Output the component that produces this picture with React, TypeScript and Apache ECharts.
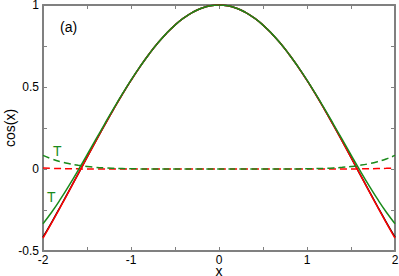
import React, { useEffect, useRef } from "react";
import * as echarts from "echarts";

const xs = [-2, -1.9, -1.8, -1.7, -1.6, -1.5, -1.4, -1.3, -1.2, -1.1, -1, -0.9, -0.8, -0.7, -0.6, -0.5, -0.4, -0.3, -0.2, -0.1, 0, 0.1, 0.2, 0.3, 0.4, 0.5, 0.6, 0.7, 0.8, 0.9, 1, 1.1, 1.2, 1.3, 1.4, 1.5, 1.6, 1.7, 1.8, 1.9, 2];

const cosExact = [-0.4161, -0.3233, -0.2272, -0.1288, -0.0292, 0.0707, 0.17, 0.2675, 0.3624, 0.4536, 0.5403, 0.6216, 0.6967, 0.7648, 0.8253, 0.8776, 0.9211, 0.9553, 0.9801, 0.995, 1, 0.995, 0.9801, 0.9553, 0.9211, 0.8776, 0.8253, 0.7648, 0.6967, 0.6216, 0.5403, 0.4536, 0.3624, 0.2675, 0.17, 0.0707, -0.0292, -0.1288, -0.2272, -0.3233, -0.4161];

const redSolid = [-0.4222, -0.3273, -0.2298, -0.1305, -0.0302, 0.0701, 0.1696, 0.2673, 0.3623, 0.4536, 0.5403, 0.6216, 0.6967, 0.7648, 0.8253, 0.8776, 0.9211, 0.9553, 0.9801, 0.995, 1, 0.995, 0.9801, 0.9553, 0.9211, 0.8776, 0.8253, 0.7648, 0.6967, 0.6216, 0.5403, 0.4536, 0.3623, 0.2673, 0.1696, 0.0701, -0.0302, -0.1305, -0.2298, -0.3273, -0.4222];

const greenSolid = [-0.3333, -0.262, -0.1826, -0.097, -0.0069, 0.0859, 0.1801, 0.274, 0.3664, 0.456, 0.5417, 0.6223, 0.6971, 0.765, 0.8254, 0.8776, 0.9211, 0.9553, 0.9801, 0.995, 1, 0.995, 0.9801, 0.9553, 0.9211, 0.8776, 0.8254, 0.765, 0.6971, 0.6223, 0.5417, 0.456, 0.3664, 0.274, 0.1801, 0.0859, -0.0069, -0.097, -0.1826, -0.262, -0.3333];

const greenDashed = [0.0828, 0.0613, 0.0446, 0.0318, 0.0223, 0.0152, 0.0101, 0.0065, 0.004, 0.0024, 0.0014, 0.0007, 0.0004, 0.0002, 0.0001, 0, 0, 0, 0, 0, 0, 0, 0, 0, 0, 0, 0.0001, 0.0002, 0.0004, 0.0007, 0.0014, 0.0024, 0.004, 0.0065, 0.0101, 0.0152, 0.0223, 0.0318, 0.0446, 0.0613, 0.0828];

const redDashed = [0.0061, 0.004, 0.0026, 0.0017, 0.001, 0.0006, 0.0004, 0.0002, 0.0001, 0, 0, 0, 0, 0, 0, 0, 0, 0, 0, 0, 0, 0, 0, 0, 0, 0, 0, 0, 0, 0, 0, 0, 0.0001, 0.0002, 0.0004, 0.0006, 0.001, 0.0017, 0.0026, 0.004, 0.0061];

const xTickLabels = ["-2", "-1", "0", "1", "2"];
const yTickLabels = ["-0.5", "0", "0.5", "1"];

const GREEN = "#1a8a1a";
const RED = "#ff0000";
const AXIS = "#808080";
const FONT = "Liberation Sans";

function pairs(ys: number[]) {
  return xs.map((x, i) => [x, ys[i]]);
}

function fmtX(v: number) {
  const s = String(v);
  return xTickLabels.includes(s) ? s : "";
}
function fmtY(v: number) {
  const s = String(v);
  return yTickLabels.includes(s) ? s : "";
}

export default function App() {
  const ref = useRef<HTMLDivElement>(null);
  useEffect(() => {
    if (!ref.current) return;
    const chart = echarts.init(ref.current, null, { renderer: "svg" });
    const axisLine = { show: true, onZero: false, lineStyle: { color: AXIS, width: 2 } };
    const axisTick = { show: true, inside: true, length: 4, lineStyle: { color: AXIS, width: 1 } };
    const line = (data: number[], color: string, type: string, z: number) => ({
      type: "line",
      data: pairs(data),
      showSymbol: false,
      symbol: "none",
      smooth: true,
      z,
      lineStyle: { color, width: 1.5, type: type === "dashed" ? [7, 4] : "solid" },
    });
    chart.setOption({
      animation: false,
      backgroundColor: "#fff",
      textStyle: { fontFamily: FONT },
      grid: { left: 43, right: 4, top: 5, bottom: 25, containLabel: false, outerBoundsMode: "none" },
      xAxis: [
        {
          type: "value",
          min: -2,
          max: 2,
          interval: 0.5,
          position: "bottom",
          name: "x",
          nameLocation: "middle",
          nameGap: 13,
          nameMoveOverlap: false,
          nameTextStyle: { color: "#000", fontSize: 14, fontFamily: FONT },
          axisLine,
          axisTick,
          splitLine: { show: false },
          axisLabel: { formatter: fmtX, color: "#000", fontSize: 12, margin: 3, fontFamily: FONT },
        },
        {
          type: "value",
          min: -2,
          max: 2,
          interval: 0.5,
          position: "top",
          axisLine,
          axisTick,
          splitLine: { show: false },
          axisLabel: { show: false },
        },
      ],
      yAxis: [
        {
          type: "value",
          min: -0.5,
          max: 1,
          interval: 0.25,
          position: "left",
          name: "cos(x)",
          nameLocation: "middle",
          nameGap: 26,
          nameRotate: 90,
          nameMoveOverlap: false,
          nameTextStyle: { color: "#000", fontSize: 14, fontFamily: FONT },
          axisLine,
          axisTick,
          splitLine: { show: false },
          axisLabel: { formatter: fmtY, color: "#000", fontSize: 12, margin: 4, fontFamily: FONT },
        },
        {
          type: "value",
          min: -0.5,
          max: 1,
          interval: 0.25,
          position: "right",
          axisLine,
          axisTick,
          splitLine: { show: false },
          axisLabel: { show: false },
        },
      ],
      series: [
        line(cosExact, "#000", "solid", 2),
        line(redSolid, RED, "solid", 3),
        line(greenSolid, GREEN, "solid", 4),
        line(redDashed, RED, "dashed", 3),
        line(greenDashed, GREEN, "dashed", 4),
      ],
      graphic: [
        { type: "text", id: "lblA", left: 60, top: 20, z: 100, style: { text: "(a)", fontSize: 14, fill: "#000", fontFamily: FONT } },
        { type: "text", id: "lblT1", left: 53, top: 144, z: 100, style: { text: "T", fontSize: 14, fill: GREEN, fontFamily: FONT } },
        { type: "text", id: "lblT2", left: 47, top: 190, z: 100, style: { text: "T", fontSize: 14, fill: GREEN, fontFamily: FONT } },
      ],
    });
    return () => chart.dispose();
  }, []);
  return <div ref={ref} style={{ position: "fixed", left: 0, top: 0, width: 399, height: 276 }} />;
}
